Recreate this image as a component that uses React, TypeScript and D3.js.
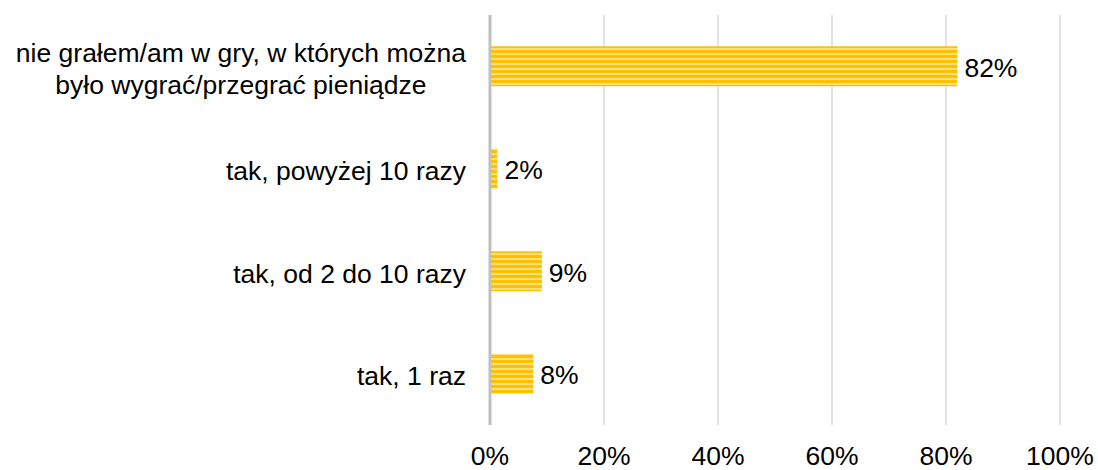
import React from 'react'
import * as d3 from 'd3'

const categories = [
  ['nie grałem/am w gry, w których można', 'było wygrać/przegrać pieniądze'],
  ['tak, powyżej 10 razy'],
  ['tak, od 2 do 10 razy'],
  ['tak, 1 raz'],
]
const values = [82, 1.3, 9.1, 7.6]
const valueLabels = ['82%', '2%', '9%', '8%']
const ticks = [0, 20, 40, 60, 80, 100]

const font = 'Arial, "Liberation Sans", sans-serif'
const fontSize = 26.5

// measure text so multi-line labels can be centred as a block
function textWidth(s: string) {
  const ctx = document.createElement('canvas').getContext('2d')
  if (!ctx) return s.length * fontSize * 0.5
  ctx.font = `${fontSize}px ${font}`
  return ctx.measureText(s).width
}

export default function App() {
  const width = 1098
  const height = 470
  const margin = { top: 15, right: 38, bottom: 45, left: 490 }
  const labelRight = 466
  const lineH = 32

  const x = d3.scaleLinear().domain([0, 100]).range([margin.left, width - margin.right])
  const y = d3.scaleBand<number>()
    .domain(d3.range(categories.length))
    .range([margin.top, height - margin.bottom])
    .paddingInner(0.61)
    .paddingOuter(0.305)

  return (
    <svg width={width} height={height} style={{ position: 'absolute', left: 0, top: 0 }}>
      <defs>
        <pattern id="stripes" width="8" height="5" patternUnits="userSpaceOnUse">
          <rect width="8" height="5" fill="#FFC000" />
          <rect y="3" width="8" height="2" fill="#FFE27F" />
        </pattern>
      </defs>
      {ticks.slice(1).map(t => (
        <line key={t} x1={x(t)} x2={x(t)} y1={margin.top} y2={height - margin.bottom}
          stroke="#d9d9d9" strokeWidth={1.5} />
      ))}
      {values.map((v, i) => {
        const cy = y(i)! + y.bandwidth() / 2
        const lines = categories[i]
        const maxW = d3.max(lines, textWidth) ?? 0
        const cx = labelRight - maxW / 2
        return (
          <g key={i}>
            <rect x={x(0)} y={y(i)} width={x(v) - x(0)} height={y.bandwidth()} fill="url(#stripes)" />
            <text x={x(v) + 7} y={cy + 10.5}
              fontFamily={font} fontSize={fontSize} fill="#000">{valueLabels[i]}</text>
            {lines.map((line, j) => (
              <text key={j} x={cx} y={cy + 11.5 - (lines.length - 1) * lineH / 2 + j * lineH}
                textAnchor="middle" fontFamily={font} fontSize={fontSize} fill="#000">{line}</text>
            ))}
          </g>
        )
      })}
      <line x1={x(0)} x2={x(0)} y1={margin.top} y2={height - margin.bottom}
        stroke="#bfbfbf" strokeWidth={3} />
      {ticks.map(t => (
        <text key={t} x={x(t)} y={465} textAnchor="middle"
          fontFamily={font} fontSize={fontSize} fill="#000">{t}%</text>
      ))}
    </svg>
  )
}
